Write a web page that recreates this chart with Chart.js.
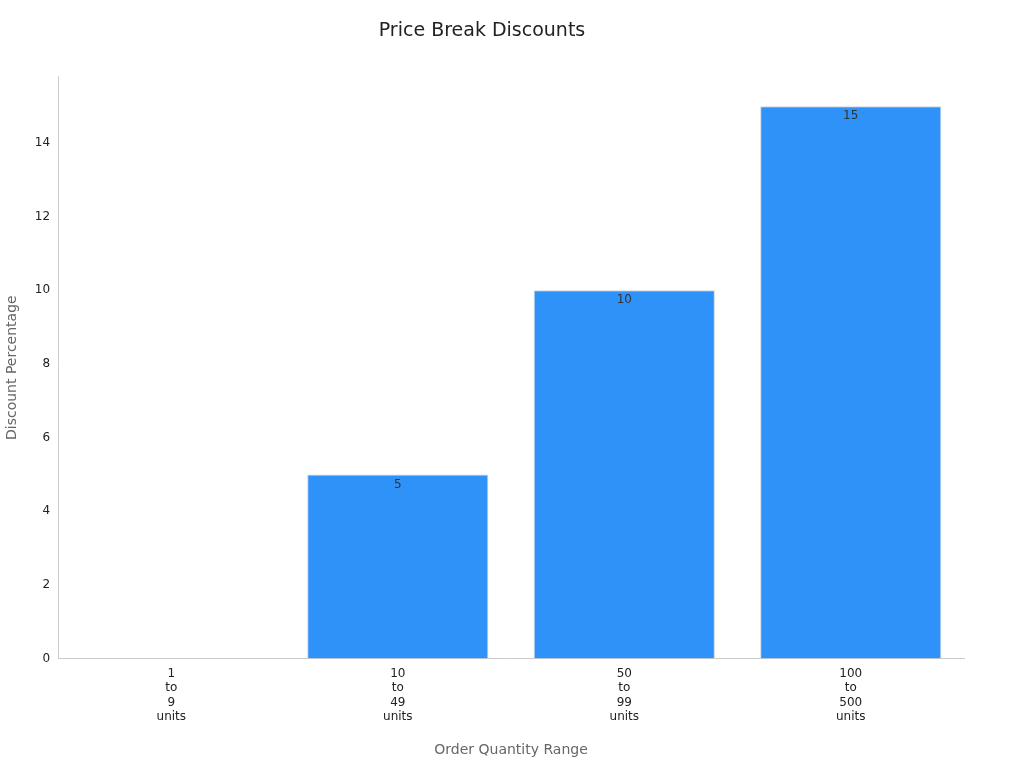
<!DOCTYPE html>
<html>
<head>
<meta charset="utf-8">
<script src="https://cdn.jsdelivr.net/npm/chart.js@4/dist/chart.umd.min.js"></script>
<style>
  html, body { margin: 0; padding: 0; background: #fff; }
  #wrap { width: 1024px; height: 768px; }
</style>
</head>
<body>
<div id="wrap"><canvas id="chart"></canvas></div>
<script>
const categories = [["1", "to", "9", "units"], ["10", "to", "49", "units"], ["50", "to", "99", "units"], ["100", "to", "500", "units"]];
const discounts = [0, 5, 10, 15];

Chart.defaults.font.family = "'DejaVu Sans', sans-serif";

// draw the value just under the top of each bar
const barLabels = {
  id: 'barLabels',
  afterDatasetsDraw(chart) {
    const ctx = chart.ctx;
    const meta = chart.getDatasetMeta(0);
    ctx.save();
    ctx.font = "12px 'DejaVu Sans', sans-serif";
    ctx.fillStyle = '#333';
    ctx.textAlign = 'center';
    ctx.textBaseline = 'top';
    meta.data.forEach((bar, i) => {
      if (discounts[i] === 0) return;
      ctx.fillText(String(discounts[i]), bar.x, bar.y + 4);
    });
    ctx.restore();
  }
};

const ctx = document.getElementById('chart').getContext('2d');
new Chart(ctx, {
  type: 'bar',
  data: {
    labels: categories,
    datasets: [{
      label: 'Discount Percentage',
      data: discounts,
      backgroundColor: '#2f92f8',
      borderColor: '#c9d6e6',
      borderWidth: 1,
      categoryPercentage: 0.8,
      barPercentage: 1.0
    }]
  },
  options: {
    responsive: true,
    maintainAspectRatio: false,
    animation: false,
    layout: { padding: { top: 20, right: 60, bottom: 5, left: 0 } },
    plugins: {
      legend: { display: false },
      tooltip: { enabled: false },
      title: {
        display: true,
        text: 'Price Break Discounts',
        color: '#222',
        font: { size: 19, weight: 'normal' },
        padding: { top: 0, bottom: 34 }
      }
    },
    scales: {
      x: {
        grid: { display: false, drawTicks: false },
        border: { color: '#ccc' },
        ticks: { color: '#222', font: { size: 12 }, padding: 8 },
        title: { display: true, text: 'Order Quantity Range', color: '#666', font: { size: 14 }, padding: { top: 10 } }
      },
      y: {
        min: 0,
        max: 15.8,
        afterBuildTicks(axis) {
          axis.ticks = [0, 2, 4, 6, 8, 10, 12, 14].map(v => ({ value: v }));
        },
        grid: { display: false, drawOnChartArea: false, drawTicks: true, tickLength: 6, tickColor: '#888' },
        border: { color: '#ccc' },
        ticks: { color: '#222', font: { size: 12 }, padding: 2 },
        title: { display: true, text: 'Discount Percentage', color: '#666', font: { size: 14 }, padding: { bottom: 12 } }
      }
    }
  },
  plugins: [barLabels]
});
</script>
</body>
</html>
